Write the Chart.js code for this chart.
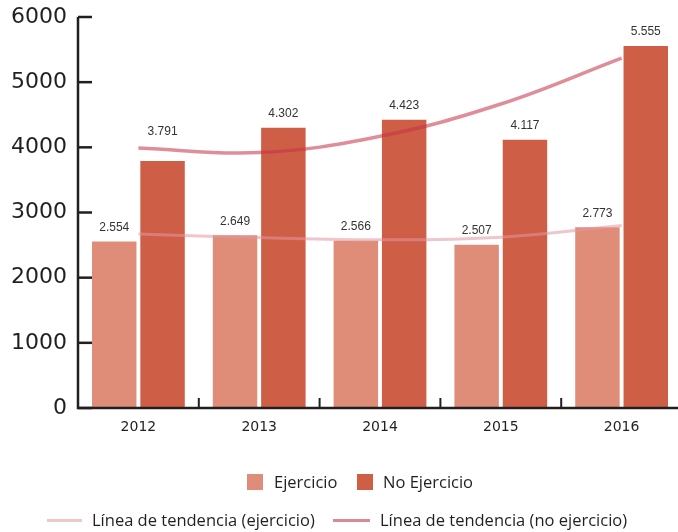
<!DOCTYPE html>
<html>
<head>
<meta charset="utf-8">
<script src="https://cdn.jsdelivr.net/npm/chart.js@4/dist/chart.umd.min.js"></script>
<style>
  html, body { margin: 0; padding: 0; background: #fff; overflow: hidden; }
  #wrap { position: relative; width: 678px; height: 532px; overflow: hidden; }
  canvas { position: absolute; left: 0; top: 0; }
  .lg { position: absolute; font-family: "Open Sans", sans-serif; font-size: 16.5px; color: #231f20; line-height: 20px; white-space: nowrap; }
  .sq { position: absolute; width: 16px; height: 16px; }
  .ln { position: absolute; height: 3px; }
</style>
</head>
<body>
<div id="wrap">
  <canvas id="chart" width="682" height="532"></canvas>
  <div class="sq" style="left:247px;top:474px;background:#df8d78"></div>
  <div class="lg" style="left:274px;top:472px">Ejercicio</div>
  <div class="sq" style="left:357px;top:474px;background:#cf5e47"></div>
  <div class="lg" style="left:383px;top:472px">No Ejercicio</div>
  <div class="ln" style="left:47px;width:35px;top:519px;background:#f0c6ca"></div>
  <div class="lg" style="left:92px;top:510px">Línea de tendencia (ejercicio)</div>
  <div class="ln" style="left:333px;width:37px;top:519px;background:#d98a93"></div>
  <div class="lg" style="left:380px;top:510px">Línea de tendencia (no ejercicio)</div>
</div>
<script>
    // datos del gráfico
    const years = ['2012', '2013', '2014', '2015', '2016'];
    const ejercicio = [2554, 2649, 2566, 2507, 2773];
    const noEjercicio = [3791, 4302, 4423, 4117, 5555];
    const tendEjercicio = [2670, 2615, 2580, 2620, 2800];
    const tendNoEjercicio = [3990, 3920, 4170, 4665, 5370];
    const yTicks = [0, 1000, 2000, 3000, 4000, 5000, 6000];

    const ink = '#231f20';

    function formatNum(v) {
        return String(v).replace(/\B(?=(\d{3})+(?!\d))/g, '.');
    }

    // ejes dibujados a mano (marcas hacia dentro)
    const axesPlugin = {
        id: 'axesPlugin',
        afterDatasetsDraw(chart) {
            const ctx = chart.ctx;
            const x = chart.scales.x;
            const y = chart.scales.y;
            const area = chart.chartArea;
            ctx.save();
            ctx.strokeStyle = ink;
            ctx.lineWidth = 2.5;
            ctx.beginPath();
            ctx.moveTo(area.left, y.getPixelForValue(6000));
            ctx.lineTo(area.left, area.bottom);
            ctx.lineTo(area.right, area.bottom);
            ctx.stroke();
            yTicks.forEach(t => {
                const py = y.getPixelForValue(t);
                ctx.beginPath();
                ctx.moveTo(area.left, py);
                ctx.lineTo(area.left + 14, py);
                ctx.stroke();
            });
            ctx.lineWidth = 2;
            for (let i = 1; i < years.length; i++) {
                const px = (x.getPixelForValue(i - 1) + x.getPixelForValue(i)) / 2;
                ctx.beginPath();
                ctx.moveTo(px, area.bottom);
                ctx.lineTo(px, area.bottom - 10);
                ctx.stroke();
            }

            // etiquetas de valores
            ctx.fillStyle = '#333';
            ctx.font = '12px "Liberation Sans", sans-serif';
            ctx.textAlign = 'center';
            ctx.textBaseline = 'middle';
            [0, 1].forEach(d => {
                const meta = chart.getDatasetMeta(d);
                meta.data.forEach((bar, i) => {
                    const lift = (d === 1 && i === 0) ? 29 : 14;
                    const val = chart.data.datasets[d].data[i];
                    ctx.fillText(formatNum(val), bar.x, bar.y - lift);
                });
            });
            ctx.restore();
        }
    };

    const ctxChart = document.getElementById('chart');
    if (ctxChart) {
        const chart = new Chart(ctxChart.getContext('2d'), {
            type: 'bar',
            data: {
                labels: years,
                datasets: [
                    {
                        label: 'Ejercicio',
                        data: ejercicio,
                        backgroundColor: '#df8d78',
                        categoryPercentage: 0.8,
                        barPercentage: 0.92,
                        order: 2
                    },
                    {
                        label: 'No Ejercicio',
                        data: noEjercicio,
                        backgroundColor: '#cf5e47',
                        categoryPercentage: 0.8,
                        barPercentage: 0.92,
                        order: 2
                    },
                    {
                        type: 'line',
                        label: 'Línea de tendencia (ejercicio)',
                        data: tendEjercicio,
                        borderColor: 'rgba(228, 150, 160, 0.55)',
                        borderWidth: 3,
                        pointRadius: 0,
                        tension: 0.4,
                        order: 0
                    },
                    {
                        type: 'line',
                        label: 'Línea de tendencia (no ejercicio)',
                        data: tendNoEjercicio,
                        borderColor: 'rgba(196, 50, 70, 0.55)',
                        borderWidth: 3.5,
                        pointRadius: 0,
                        tension: 0.4,
                        order: 0
                    }
                ]
            },
            options: {
                responsive: false,
                animation: false,
                layout: { padding: { top: 17, left: 0, right: 0, bottom: 0 } },
                scales: {
                    x: {
                        offset: true,
                        grid: { display: false, drawTicks: false },
                        border: { display: false },
                        ticks: {
                            color: ink,
                            padding: 11,
                            font: { family: 'DejaVu Sans', size: 14 }
                        },
                        afterFit(scale) { scale.height = 124; }
                    },
                    y: {
                        min: 0,
                        max: 6000,
                        grid: { display: false, drawTicks: false },
                        border: { display: false },
                        ticks: {
                            stepSize: 1000,
                            color: ink,
                            padding: 11,
                            font: { family: 'DejaVu Sans', size: 22 },
                            callback: function(value) {
                                return String(value);
                            }
                        },
                        afterFit(scale) {
                            scale.width = 78;
                            scale.paddingTop = 0;
                            scale.paddingBottom = 0;
                        }
                    }
                },
                plugins: {
                    legend: { display: false },
                    tooltip: { enabled: false }
                }
            },
            plugins: [axesPlugin]
        });
    }
</script>
</body>
</html>
